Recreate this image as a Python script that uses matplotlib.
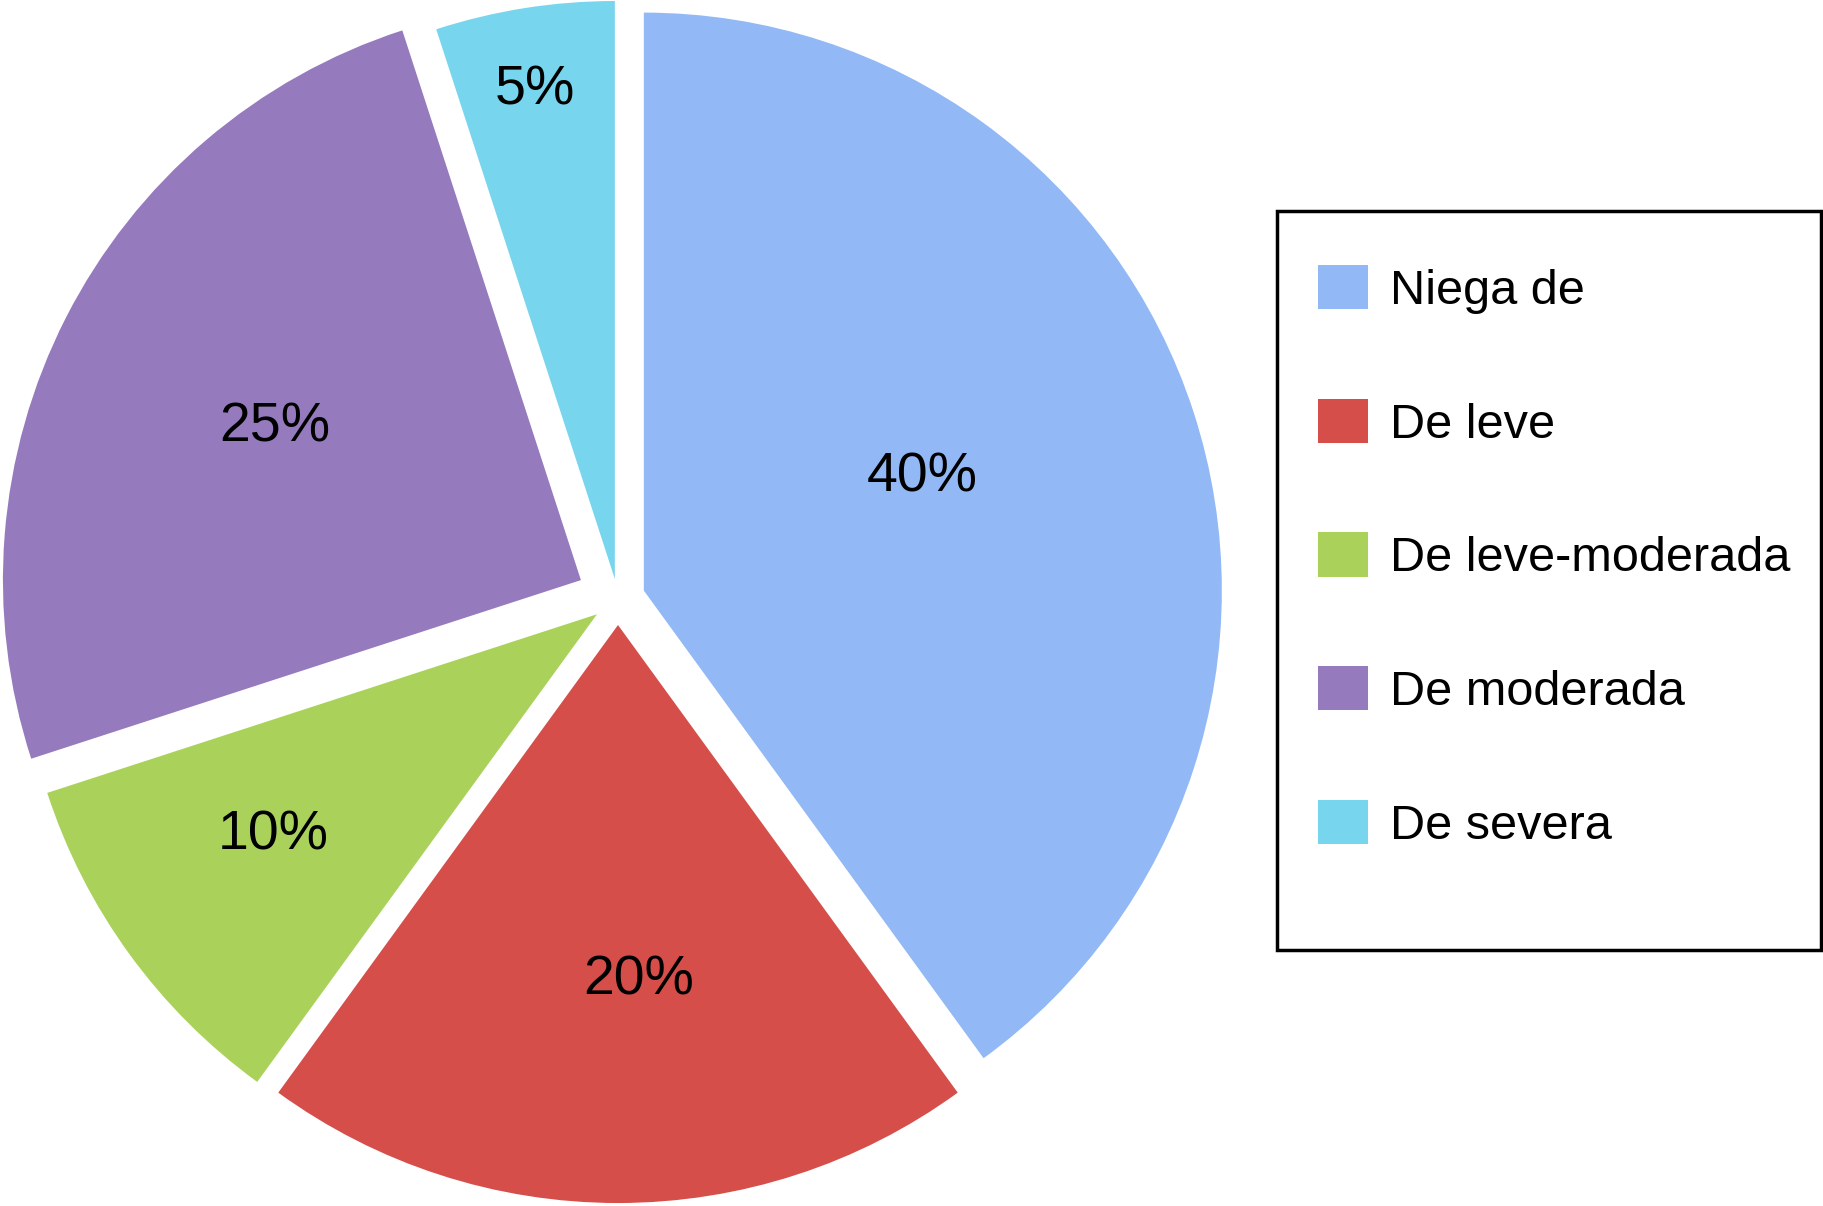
import numpy as np
import matplotlib.pyplot as plt
from matplotlib.patches import Rectangle

plt.rcParams['font.family'] = ['Liberation Sans', 'DejaVu Sans']

categories = ["Niega de", "De leve", "De leve-moderada", "De moderada", "De severa"]
values = [40, 20, 10, 25, 5]
colors = ["#92B9F5", "#D54E4A", "#AAD25A", "#967ABE", "#78D5EE"]

# styling per slice
explode = [0.047, 0.045, 0.045, 0.072, 0.035]
label_r = [0.524, 0.606, 0.672, 0.596, 0.866]
label_dang = [5.2, 3.4, -2.4, -0.4, 0.2]

W, H = 1824, 1206
fig = plt.figure(figsize=(W / 100, H / 100), dpi=100)
ax = fig.add_axes([0, 0, 1, 1])

wedges, _ = ax.pie(values, colors=colors, explode=explode, startangle=90,
                   counterclock=False, radius=1.0,
                   wedgeprops=dict(linewidth=0))

for w, v, r, da in zip(wedges, values, label_r, label_dang):
    ang = np.deg2rad((w.theta1 + w.theta2) / 2 + da)
    cx, cy = w.center
    ax.text(cx + r * np.cos(ang), cy + r * np.sin(ang), f"{v}%",
            ha="center", va="center_baseline", fontsize=40, color="black")

# pie centre at (618, 599) px, radius 578 px
R, px, py = 578, 618, 599
ax.set_xlim(-px / R, (W - px) / R)
ax.set_ylim(-(H - py) / R, py / R)
ax.set_aspect("equal", adjustable="datalim")
ax.axis("off")

# legend box
fig.patches.append(Rectangle((1277 / W, 1 - 950 / H), (1821 - 1277) / W, (950 - 211) / H,
                             transform=fig.transFigure, fill=False,
                             edgecolor="black", linewidth=2.5))
fig.legend(wedges, categories, loc="upper left",
           bbox_to_anchor=(1318 / W, 1 - 265 / H), frameon=False,
           fontsize=35, handlelength=1.03, handleheight=1.03,
           handletextpad=0.45, labelspacing=1.745, borderpad=0, borderaxespad=0)

fig.savefig("out.png", dpi=100)
